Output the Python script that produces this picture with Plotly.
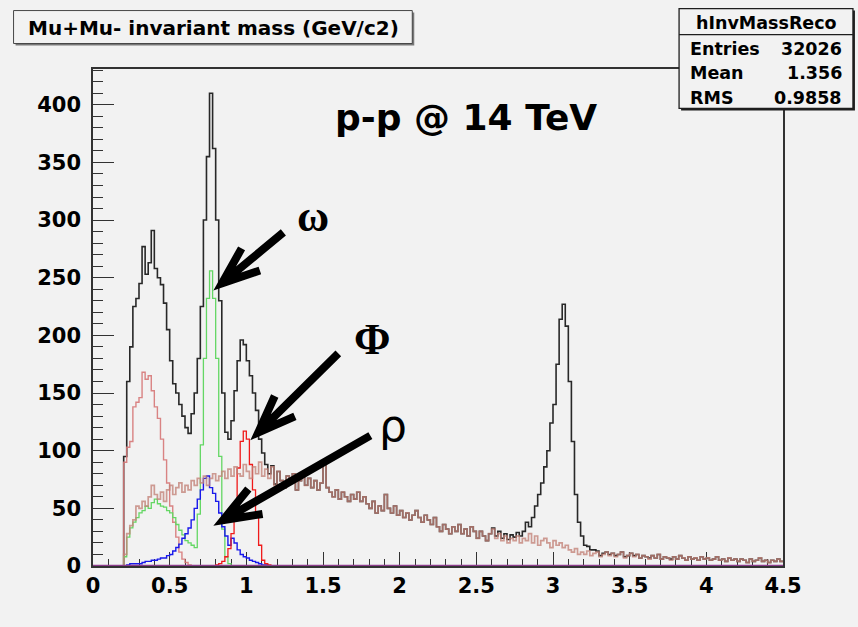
import math
import plotly.graph_objects as go

# ---------------------------------------------------------------------------
# Histogram binning (GeV/c^2)
# ---------------------------------------------------------------------------
BIN_WIDTH = 0.02
X_MIN, X_MAX = 0.0, 4.5
N_BINS = int(round((X_MAX - X_MIN) / BIN_WIDTH))

# Reconstructed mu+mu- spectrum (all sources), counts per bin from 0.20 GeV
total_start = 0.20
total_counts = [
    95, 160, 190, 225, 232, 245, 277, 253, 263, 291,
    258, 250, 244, 228, 205, 178, 158, 150, 140, 130,
    120, 115, 132, 150, 180, 225, 300, 355, 410, 362,
    300, 230, 150, 116, 110, 126, 152, 178, 196, 192,
    178, 165, 150, 135, 110, 98, 88, 80, 87, 71,
    82, 74, 68, 78, 72, 80, 66, 74, 80, 70,
    76, 68, 74, 66, 72, 88, 68, 64, 60, 66,
    58, 64, 60, 56, 62, 58, 64, 56, 60, 54,
    50, 56, 46, 52, 48, 62, 50, 46, 52, 44,
    48, 42, 46, 40, 44, 48, 42, 38, 44, 40,
    36, 42, 34, 30, 36, 32, 28, 34, 30, 36,
    28, 32, 26, 34, 30, 24, 30, 26, 22, 28,
    33, 26, 30, 24, 28, 23, 27, 25, 29, 26,
    30, 38, 34, 42, 52, 62, 72, 86, 100, 124,
    140, 175, 214, 227, 208, 160, 108, 62, 38, 26,
    18, 17, 14, 14, 13, 9, 11, 12, 10, 11,
    9, 10, 12, 8, 9, 11, 9, 10, 7, 9,
    8, 7, 9, 7, 10, 6, 8, 7, 6, 8,
    6, 9, 7, 5, 8, 6, 7, 5, 8, 6,
    7, 5, 6, 8, 5, 6, 4, 7, 5, 6,
    4, 6, 5, 3, 6, 4, 5, 7, 4, 5,
    3, 5, 4, 6, 4,
]

# eta Dalitz
eta_start = 0.20
eta_counts = [
    90, 103, 108, 138, 142, 146, 168, 162, 165, 152,
    138, 128, 110, 92, 72, 52, 38, 25, 12, 6,
    3, 1,
]

# omega (Dalitz + two-body peak)
omega_start = 0.20
omega_counts = [
    8, 25, 33, 38, 42, 46, 48, 52, 50, 55,
    58, 54, 52, 51, 48, 46, 42, 36, 31, 27,
    22, 20, 18, 16, 45, 105, 180, 232, 256, 232,
    180, 95, 32, 8, 2,
]

# rho
rho_start = 0.20
rho_counts = [
    0, 1, 2, 2, 2, 2, 3, 4, 4, 5,
    5, 6, 7, 7, 9, 10, 13, 16, 19, 24,
    28, 33, 40, 50, 58, 66, 76, 78, 68, 63,
    56, 46, 34, 26, 18, 24, 20, 14, 10, 8,
    7, 5, 4, 3, 2, 1, 1,
]

# phi
phi_start = 0.80
phi_counts = [
    1, 2, 4, 8, 15, 28, 55, 85, 108, 117,
    110, 88, 66, 45, 18, 5, 2, 1,
]

# open charm / continuum
cont_start = 0.20
cont_counts = [
    10, 28, 35, 40, 52, 50, 56, 52, 60, 70,
    62, 58, 64, 56, 66, 70, 62, 68, 72, 64,
    70, 66, 74, 70, 76, 72, 78, 70, 76, 80,
    74, 78, 82, 76, 84, 78, 86, 80, 78, 88,
    82, 76, 86, 80, 90, 78, 84, 76, 86, 70,
    82, 74, 68, 78, 72, 80, 66, 74, 80, 70,
    76, 68, 74, 66, 72, 88, 68, 64, 60, 66,
    58, 64, 60, 56, 62, 58, 64, 56, 60, 54,
    50, 56, 46, 52, 48, 62, 50, 46, 52, 44,
    48, 42, 46, 40, 44, 48, 42, 38, 44, 40,
    36, 42, 34, 30, 36, 32, 28, 34, 30, 36,
    28, 32, 26, 34, 30, 24, 30, 26, 22, 28,
    32, 24, 28, 22, 26, 20, 24, 22, 26, 20,
    24, 22, 28, 20, 26, 18, 22, 24, 20, 16,
    22, 18, 20, 16, 18, 14, 12, 15, 10, 12,
    10, 13, 9, 11, 12, 8, 10, 12, 9, 11,
    8, 10, 12, 7, 9, 11, 8, 10, 7, 9,
    8, 6, 9, 7, 10, 6, 8, 7, 5, 8,
    6, 9, 7, 5, 8, 6, 7, 5, 8, 6,
    7, 5, 6, 8, 5, 6, 4, 7, 5, 6,
    4, 6, 5, 3, 6, 4, 5, 7, 4, 5,
    3, 5, 4, 6, 4,
]

# empty histogram of the remaining sources
others_start = 0.0
others_counts = []

x_tick_vals = [0, 0.5, 1, 1.5, 2, 2.5, 3, 3.5, 4, 4.5]
x_tick_text = ["0", "0.5", "1", "1.5", "2", "2.5", "3", "3.5", "4", "4.5"]
y_tick_vals = [0, 50, 100, 150, 200, 250, 300, 350, 400]

title_text = "Mu+Mu- invariant mass (GeV/c2)"
stats_name = "hInvMassReco"
stats_rows = [("Entries", "32026"), ("Mean", "1.356"), ("RMS", "0.9858")]
energy_label = "p-p @ 14 TeV"

# resonance labels: text, font, weight, arrow tip (data), tail offset (px, right/up), label pos (px)
resonances = [
    ("ω", "Liberation Serif", "bold", 0.785, 239.0, 70, 58, (313, 216)),
    ("Φ", "Liberation Serif", "bold", 1.026, 109.0, 88, 87, (372, 339)),
    ("ρ", "DejaVu Sans", "normal", 0.785, 35.0, 157, 90, (393, 425)),
]

# ---------------------------------------------------------------------------
# Page geometry
# ---------------------------------------------------------------------------
W, H = 858, 627
PL, PR, PT, PB = 92.5, 783.0, 68.5, 566.0
BG = "rgb(242,242,242)"
AXIS = "rgb(50,50,50)"


def fx(px):
    return (px - PL) / (PR - PL)


def fy(py):
    return (PB - py) / (PB - PT)


def full_hist(start, counts):
    contents = [0.0] * N_BINS
    i0 = int(round((start - X_MIN) / BIN_WIDTH))
    for k, c in enumerate(counts):
        contents[i0 + k] = c
    edges = [round(X_MIN + i * BIN_WIDTH, 4) for i in range(N_BINS + 1)]
    return edges, contents + [contents[-1]]


fig = go.Figure()


def add_hist(start, counts, color, width, opacity=1.0):
    xs, ys = full_hist(start, counts)
    fig.add_trace(go.Scatter(
        x=xs, y=ys, mode="lines", line=dict(color=color, width=width, shape="hv"),
        opacity=opacity, hoverinfo="skip",
    ))


add_hist(total_start, total_counts, "rgb(40,40,40)", 1.6)
add_hist(eta_start, eta_counts, "rgb(215,120,120)", 1.4, 0.9)
add_hist(omega_start, omega_counts, "rgb(100,215,100)", 1.3)
add_hist(rho_start, rho_counts, "rgb(25,25,235)", 1.4)
add_hist(phi_start, phi_counts, "rgb(240,25,25)", 1.3)
add_hist(cont_start, cont_counts, "rgb(195,130,120)", 1.7, 0.78)
add_hist(others_start, others_counts, "rgb(140,60,140)", 2.4)

tick_font = dict(family="DejaVu Sans", size=21, color="black", weight="bold")

fig.update_xaxes(
    range=[X_MIN, X_MAX], showgrid=False, zeroline=False, layer="below traces",
    showline=True, linecolor=AXIS, linewidth=1.5, mirror=True,
    ticks="inside", ticklen=14, tickwidth=1.2, tickcolor=AXIS,
    tickvals=x_tick_vals, ticktext=x_tick_text, tickfont=tick_font,
    minor=dict(ticks="inside", ticklen=7, tickwidth=1, tickcolor=AXIS, dtick=0.1, tick0=0, showgrid=False),
)
fig.update_yaxes(
    range=[0, 431], showgrid=False, zeroline=False,
    showline=True, linecolor=AXIS, linewidth=1.5, mirror=True,
    ticks="inside", ticklen=21, tickwidth=1.2, tickcolor=AXIS,
    tickvals=y_tick_vals, tickfont=tick_font, ticklabelstandoff=6,
    minor=dict(ticks="inside", ticklen=10.5, tickwidth=1, tickcolor=AXIS, dtick=10, tick0=0, showgrid=False),
)

shapes = []
annotations = []

# title box
shapes.append(dict(type="rect", xref="paper", yref="paper",
                   x0=fx(15), x1=fx(414), y0=fy(12), y1=fy(45),
                   line=dict(width=0), fillcolor="rgb(120,120,120)", layer="above"))
shapes.append(dict(type="rect", xref="paper", yref="paper",
                   x0=fx(13), x1=fx(412), y0=fy(10), y1=fy(43),
                   line=dict(color="rgb(70,70,70)", width=1), fillcolor=BG, layer="above"))
annotations.append(dict(xref="paper", yref="paper", x=fx(213), y=fy(27), text=title_text,
                        showarrow=False, xanchor="center", yanchor="middle",
                        font=dict(family="DejaVu Sans", size=20, color="black", weight="bold")))

# statistics box
shapes.append(dict(type="rect", xref="paper", yref="paper",
                   x0=fx(681), x1=fx(855), y0=fy(10), y1=fy(110),
                   line=dict(width=0), fillcolor="rgb(30,30,30)", layer="above"))
shapes.append(dict(type="rect", xref="paper", yref="paper",
                   x0=fx(679), x1=fx(853), y0=fy(8), y1=fy(108),
                   line=dict(color="rgb(30,30,30)", width=1.3), fillcolor=BG, layer="above"))
shapes.append(dict(type="line", xref="paper", yref="paper",
                   x0=fx(679), x1=fx(853), y0=fy(34), y1=fy(34),
                   line=dict(color="rgb(30,30,30)", width=1.3), layer="above"))
stats_font = dict(family="DejaVu Sans", size=17.5, color="black", weight="bold")
annotations.append(dict(xref="paper", yref="paper", x=fx(766), y=fy(22), text=stats_name,
                        showarrow=False, xanchor="center", yanchor="middle", font=stats_font))
for i, (name, val) in enumerate(stats_rows):
    ypx = 48 + i * 25
    annotations.append(dict(xref="paper", yref="paper", x=fx(688), y=fy(ypx), text=name,
                            showarrow=False, xanchor="left", yanchor="middle", font=stats_font))
    annotations.append(dict(xref="paper", yref="paper", x=fx(844), y=fy(ypx), text=val,
                            showarrow=False, xanchor="right", yanchor="middle", font=stats_font))

# collision system label
annotations.append(dict(xref="paper", yref="paper", x=fx(333), y=fy(117), text=energy_label,
                        showarrow=False, xanchor="left", yanchor="middle",
                        font=dict(family="DejaVu Sans", size=36, color="black", weight="bold")))

# resonance labels with thick arrows
ARROW_W = 8
HALF_ANGLE = math.radians(21)
ARM_LEN = 40.0
miter_ext = (ARROW_W / 2) / math.sin(HALF_ANGLE)
for label, family, weight, tx, ty, dx, dy, (lx, ly) in resonances:
    n = math.hypot(dx, dy)
    ux, uy = dx / n, dy / n
    # vertex sits behind the tip so the mitred point lands on the tip
    vx, vy = ux * miter_ext, uy * miter_ext
    arms = []
    for s in (1, -1):
        c, sn = math.cos(s * HALF_ANGLE), math.sin(s * HALF_ANGLE)
        ax_ = ux * c - uy * sn
        ay_ = ux * sn + uy * c
        arms.append((vx + ax_ * ARM_LEN, vy + ay_ * ARM_LEN))
    path = (f"M{dx:.2f},{dy:.2f} L{vx:.2f},{vy:.2f} "
            f"M{arms[0][0]:.2f},{arms[0][1]:.2f} L{vx:.2f},{vy:.2f} L{arms[1][0]:.2f},{arms[1][1]:.2f}")
    shapes.append(dict(type="path", xref="x", yref="y", xsizemode="pixel", ysizemode="pixel",
                       xanchor=tx, yanchor=ty, path=path,
                       line=dict(color="black", width=ARROW_W), layer="above"))
    annotations.append(dict(xref="paper", yref="paper", x=fx(lx), y=fy(ly), text=label,
                            showarrow=False, xanchor="center", yanchor="middle",
                            font=dict(family=family, size=44, color="black", weight=weight)))

fig.update_layout(
    width=W, height=H,
    margin=dict(l=PL, r=W - PR, t=PT, b=H - PB, pad=0),
    paper_bgcolor=BG, plot_bgcolor=BG,
    showlegend=False,
    shapes=shapes, annotations=annotations,
)

fig.write_html("out.html")
